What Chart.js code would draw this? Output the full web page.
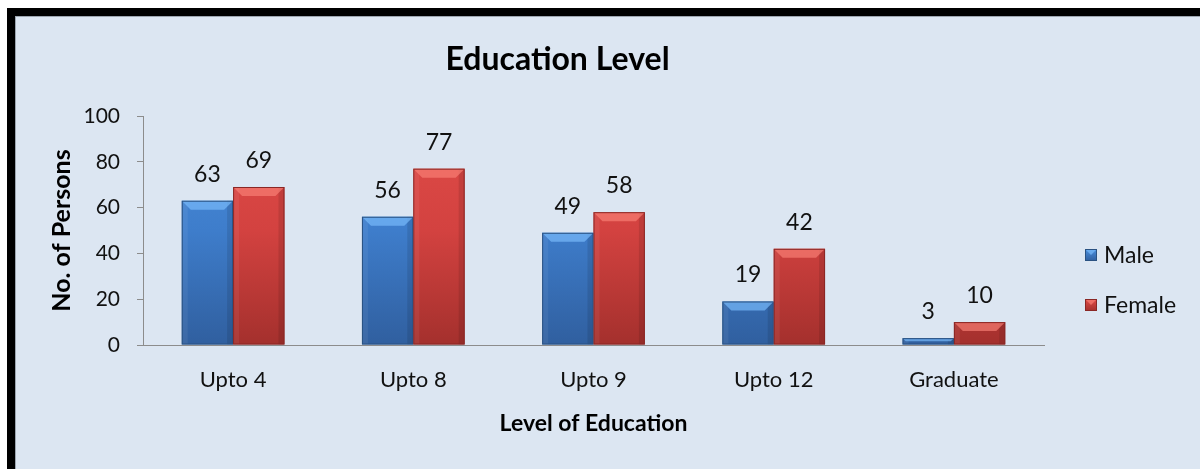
<!DOCTYPE html>
<html><head><meta charset="utf-8">
<script src="https://cdn.jsdelivr.net/npm/chart.js@4/dist/chart.umd.min.js"></script>
<style>
html,body{margin:0;padding:0;background:#fff;width:1200px;height:469px;overflow:hidden}
#frame{position:absolute;left:7px;top:8px;width:1193px;height:461px;background:#000}
#inner{position:absolute;left:8px;top:8px;width:1185px;height:453px;background:#DCE6F2;box-shadow:inset 1px 1px 0 #9DA6B0}
canvas{position:absolute;left:0;top:0}
</style></head>
<body>
<div id="frame"><div id="inner"><canvas id="c" width="1185" height="453"></canvas></div></div>
<script>
const chartTitle = 'Education Level';
const categories = ['Upto 4', 'Upto 8', 'Upto 9', 'Upto 12', 'Graduate'];
const maleValues = [63, 56, 49, 19, 3];
const femaleValues = [69, 77, 58, 42, 10];
const seriesNames = ['Male', 'Female'];
const yTicks = [0, 20, 40, 60, 80, 100];
const xAxisTitle = 'Level of Education';
const yAxisTitle = 'No. of Persons';

const F = 'Lato, "Open Sans", sans-serif';
const palettes = [
  {top: '#4B8FDD', mid: '#3E7DCB', bot: '#305F9F', edge: '#2A5282', light: 'rgba(120,185,250,0.7)'},
  {top: '#E04C48', mid: '#D34240', bot: '#A4302D', edge: '#8A2725', light: 'rgba(250,130,120,0.65)'}
];

function grad(i) {
  return (c) => {
    const {chart} = c;
    const area = chart.chartArea;
    if (!area) return palettes[i].mid;
    const g = chart.ctx.createLinearGradient(0, area.top, 0, area.bottom);
    g.addColorStop(0, palettes[i].top);
    g.addColorStop(0.5, palettes[i].mid);
    g.addColorStop(1, palettes[i].bot);
    return g;
  };
}

const decor = {
  id: 'decor',
  afterDatasetsDraw(chart) {
    const ctx = chart.ctx;
    const area = chart.chartArea;
    ctx.save();
    chart.data.datasets.forEach((ds, di) => {
      const meta = chart.getDatasetMeta(di);
      meta.data.forEach((el, i) => {
        const w = el.width, l = el.x - w / 2, r = el.x + w / 2, t = el.y, b = el.base;
        const h = b - t;
        const bv = Math.min(9, h / 2);
        ctx.fillStyle = 'rgba(0,0,0,0.10)';
        ctx.fillRect(r - 6, t, 6, h);
        ctx.fillStyle = 'rgba(255,255,255,0.06)';
        ctx.fillRect(l, t, 6, h);
        ctx.fillStyle = palettes[di].light;
        ctx.beginPath();
        ctx.moveTo(l, t); ctx.lineTo(r, t); ctx.lineTo(r - bv, t + bv); ctx.lineTo(l + bv, t + bv);
        ctx.closePath(); ctx.fill();
        ctx.strokeStyle = palettes[di].edge; ctx.lineWidth = 1;
        ctx.strokeRect(l + 0.5, t + 0.5, w - 1, h - 1);
        ctx.fillStyle = '#111';
        ctx.font = '23px ' + F;
        ctx.textAlign = 'center';
        ctx.textBaseline = 'alphabetic';
        ctx.fillText(String(ds.data[i]), el.x, t - 19);
      });
    });
    ctx.fillStyle = '#000';
    ctx.font = 'bold 32px ' + F;
    ctx.textAlign = 'center';
    ctx.textBaseline = 'middle';
    ctx.fillText(chartTitle, (area.left + area.right) / 2 - 36, area.top - 56);
    chart.data.datasets.forEach((ds, di) => {
      const y = area.top + 139 + di * 50;
      const x = area.right + 41;
      const g = ctx.createLinearGradient(0, y - 6, 0, y + 6);
      g.addColorStop(0, palettes[di].top); g.addColorStop(1, palettes[di].bot);
      ctx.fillStyle = g;
      ctx.fillRect(x, y - 6, 12, 12);
      ctx.fillStyle = palettes[di].light;
      ctx.beginPath(); ctx.moveTo(x, y - 6); ctx.lineTo(x + 12, y - 6); ctx.lineTo(x + 6, y); ctx.closePath(); ctx.fill();
      ctx.strokeStyle = palettes[di].edge;
      ctx.strokeRect(x + 0.5, y - 5.5, 11, 11);
      ctx.fillStyle = '#111';
      ctx.font = '23px ' + F;
      ctx.textAlign = 'left';
      ctx.textBaseline = 'middle';
      ctx.fillText(ds.label, x + 19, y + 1);
    });
    ctx.restore();
  }
};

new Chart(document.getElementById('c'), {
  type: 'bar',
  data: {
    labels: categories,
    datasets: [
      {label: seriesNames[0], data: maleValues, backgroundColor: grad(0), borderWidth: 0},
      {label: seriesNames[1], data: femaleValues, backgroundColor: grad(1), borderWidth: 0}
    ]
  },
  options: {
    responsive: false,
    animation: false,
    layout: {padding: {top: 100, right: 156, bottom: 0, left: 0}},
    datasets: {bar: {categoryPercentage: 0.57, barPercentage: 1.0}},
    plugins: {legend: {display: false}, title: {display: false}, tooltip: {enabled: false}},
    scales: {
      x: {
        grid: {display: false, drawTicks: false},
        border: {display: true, color: '#8C8C8C', width: 1},
        ticks: {color: '#111', font: {family: F, size: 22}, padding: 22},
        title: {display: true, text: xAxisTitle, color: '#000', font: {family: F, size: 23, weight: 'bold'}, padding: {top: 0, bottom: 32}},
        afterFit(s) { s.height = 124; }
      },
      y: {
        min: yTicks[0], max: yTicks[yTicks.length - 1],
        afterBuildTicks(s) { s.ticks = yTicks.map(v => ({value: v})); },
        grid: {drawOnChartArea: false, tickLength: 6, color: '#8C8C8C'},
        border: {display: true, color: '#8C8C8C', width: 1},
        ticks: {color: '#111', font: {family: F, size: 21}, padding: 17},
        title: {display: true, text: yAxisTitle, color: '#000', font: {family: F, size: 25, weight: 'bold'}, padding: {top: 32, bottom: 0}},
        afterFit(s) { s.width = 128; }
      }
    }
  },
  plugins: [decor]
});
</script>
</body></html>
